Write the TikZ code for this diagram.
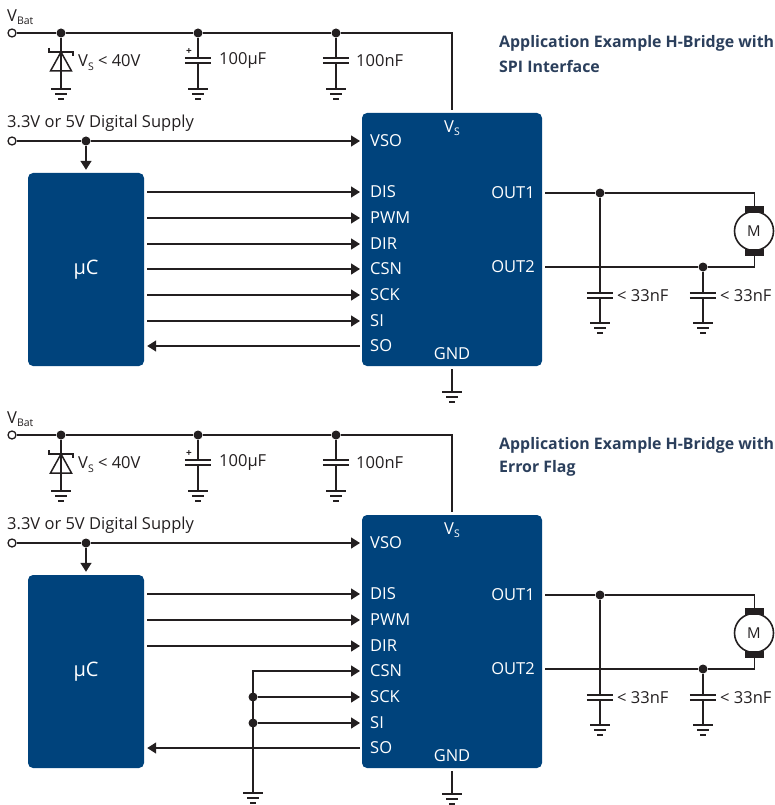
\documentclass[tikz,border=0pt]{standalone}
\usepackage{fontspec}
\setmainfont{Open Sans}
\usetikzlibrary{arrows.meta}

\definecolor{chipblue}{HTML}{00437C}
\definecolor{wirecol}{HTML}{231F20}
\definecolor{titlecol}{HTML}{2B3F5C}

\newcommand{\vsub}[1]{V\raisebox{-3.5pt}{\fontsize{10.5}{10}\selectfont #1}}
\newcommand{\gnd}[1]{
  \draw [wire, line width=1.5pt] (#1) ++(-10,0) -- ++(20,0) (#1) ++(-6,5) -- ++(12,0);
  \draw [wire, line width=2pt] (#1) ++(-3,10) -- ++(6,0);
}

\tikzset{
  wire/.style={draw=wirecol, line width=1.5pt},
  junction/.style={circle, fill=wirecol, inner sep=0pt, minimum size=9pt},
  terminal/.style={circle, draw=wirecol, fill=white, line width=1.3pt, inner sep=0pt, minimum size=8pt},
  blockbox/.style={rectangle, fill=chipblue, rounded corners=5pt, inner sep=0pt},
  capa/.style={rectangle, inner sep=0pt, minimum width=26pt, minimum height=5pt},
  plate/.style={draw=wirecol, line width=1.8pt},
  brush/.style={rectangle, fill=wirecol, inner sep=0pt, minimum width=19pt, minimum height=7pt},
  lbl/.style={text=wirecol, inner sep=0pt, anchor=west, font=\fontsize{16.5}{18}\selectfont},
  pin/.style={text=white, inner xsep=10pt, inner ysep=0pt, text height=11pt, text depth=0pt, font=\fontsize{16.5}{18}\selectfont},
  headline/.style={text=titlecol, inner sep=0pt, anchor=west, font=\fontsize{15.9}{18}\selectfont\bfseries}
}

\begin{document}
\begin{tikzpicture}[x=1pt, y=-1pt, >={Triangle[length=9pt,width=11pt]}]
\useasboundingbox (0,0) rectangle (774,805);

\foreach \p/\dy/\title in {1/0/SPI Interface, 2/402/Error Flag} {
\begin{scope}[shift={(0,\dy)}]
  \node [blockbox, minimum width=180pt, minimum height=253pt] (chip-\p) at (452,239.5) {};
  \node [blockbox, minimum width=116pt, minimum height=193pt] (uc-\p) at (86,269.5) {};
  \node [text=white, font=\fontsize{20}{22}\selectfont] (uclabel-\p) at (86,270) {µC};
  \node [text=white, font=\fontsize{16.5}{18}\selectfont] (vs-\p) at (452,128) {\vsub{S}};
  \node [text=white, font=\fontsize{16.5}{18}\selectfont] (gndlabel-\p) at (452,353.5) {GND};

  % supply rail
  \node [terminal] (vbat-\p) at (12,33) {};
  \node [lbl] (vbatlabel-\p) at (7,17) {\vsub{Bat}};
  \foreach \n/\x in {1/61,2/198,3/336}
    \node [junction] (rail\n-\p) at (\x,33) {};
  \draw [wire, shorten >=3pt] (vbat-\p) -- (rail1-\p) -- (rail2-\p) -- (rail3-\p) -| (chip-\p.north);

  % zener and capacitors
  \coordinate (gnd1-\p) at (61,89);
  \draw [wire] (rail1-\p) -- (gnd1-\p);
  \draw [plate, line width=1.5pt] (49,48) -- (49,52) -- (73,52) -- (73,56);
  \draw [plate, line width=1.5pt] (61,52) -- (50.5,71) -- (71.5,71) -- cycle;
  \gnd{gnd1-\p}
  \foreach \n/\x in {2/198,3/336} {
    \node [capa] (cap\n-\p) at (\x,60.5) {};
    \coordinate (gnd\n-\p) at (\x,89);
    \draw [wire] (rail\n-\p) -- (cap\n-\p.north) (cap\n-\p.south) -- (gnd\n-\p);
    \draw [plate] (cap\n-\p.north west) -- (cap\n-\p.north east) (cap\n-\p.south west) -- (cap\n-\p.south east);
    \gnd{gnd\n-\p}
  }
  \node [text=wirecol, inner sep=0pt, font=\fontsize{10}{10}\selectfont\bfseries] (plus-\p) at (189,51.5) {+};
  \node [lbl] (zlabel-\p) at (78,62.5) {\vsub{S} < 40V};
  \node [lbl] (c2label-\p) at (219,60.5) {100µF};
  \node [lbl] (c3label-\p) at (356,60.5) {100nF};

  % logic supply
  \node [lbl] (logiclabel-\p) at (7,123) {3.3V or 5V Digital Supply};
  \node [terminal] (vdd-\p) at (12,141) {};
  \node [junction] (vddj-\p) at (86,141) {};

  % pins of the bridge
  \foreach \l/\y in {VSO/141,DIS/192,PWM/218,DIR/244,CSN/269,SCK/295,SI/321,SO/346}
    \node [pin, anchor=west] (\l-\p) at (360,\y) {\l};
  \foreach \l/\y in {OUT1/193,OUT2/267}
    \node [pin, anchor=east] (\l-\p) at (545,\y) {\l};

  \draw [wire] (vdd-\p) -- (vddj-\p);
  \draw [wire, ->] (vddj-\p) -- (VSO-\p.west);
  \draw [wire, ->, shorten >=3pt] (vddj-\p) -- (uc-\p.north);
  \foreach \l in {DIS,PWM,DIR}
    \draw [wire, ->, shorten <=3pt] (uc-\p.east |- \l-\p.west) -- (\l-\p.west);
  \draw [wire, ->, shorten >=3pt] (SO-\p.west) -- (uc-\p.east |- SO-\p.west);

  % motor side
  \node [circle, draw=wirecol, fill=white, line width=1.6pt, inner sep=0pt, minimum size=39pt, text=wirecol, font=\fontsize{15}{18}\selectfont] (motor-\p) at (754,231) {M};
  \node [brush] (brusha-\p) at (754.5,209.5) {};
  \node [brush] (brushb-\p) at (754.5,252) {};
  \node [junction] (outa-\p) at (600,193) {};
  \node [junction] (outb-\p) at (703,267) {};
  \draw [wire] (OUT1-\p.east) -- (outa-\p) -| (brusha-\p.north);
  \draw [wire] (OUT2-\p.east) -- (outb-\p) -| (brushb-\p.south);
  \foreach \n/\x in {a/600,b/703} {
    \node [capa] (cap\n-\p) at (\x,295.5) {};
    \coordinate (gnd\n-\p) at (\x,323);
    \draw [wire] (out\n-\p) -- (cap\n-\p.north) (cap\n-\p.south) -- (gnd\n-\p);
    \draw [plate] (cap\n-\p.north west) -- (cap\n-\p.north east) (cap\n-\p.south west) -- (cap\n-\p.south east);
    \gnd{gnd\n-\p}
    \node [lbl] (cap\n label-\p) at (\x+17,296) {< 33nF};
  }

  % ground of the bridge
  \coordinate (gndchip-\p) at (452,392);
  \draw [wire, shorten >=2.5pt] (gndchip-\p) -- (chip-\p.south);
  \gnd{gndchip-\p}

  \node [headline] (titlea-\p) at (499,43) {Application Example H-Bridge with};
  \node [headline] (titleb-\p) at (499,66.5) {\title};
\end{scope}
}

% SPI lines of the first bridge
\foreach \l in {CSN,SCK,SI}
  \draw [wire, ->, shorten <=3pt] (uc-1.east |- \l-1.west) -- (\l-1.west);

% tied off lines of the second bridge
\coordinate (gndtie) at (253,793);
\node [junction] (tiea) at (gndtie |- SCK-2.west) {};
\node [junction] (tieb) at (gndtie |- SI-2.west) {};
\draw [wire, ->] (gndtie) |- (CSN-2.west);
\draw [wire, ->] (tiea) -- (SCK-2.west);
\draw [wire, ->] (tieb) -- (SI-2.west);
\gnd{gndtie}
\end{tikzpicture}
\end{document}
